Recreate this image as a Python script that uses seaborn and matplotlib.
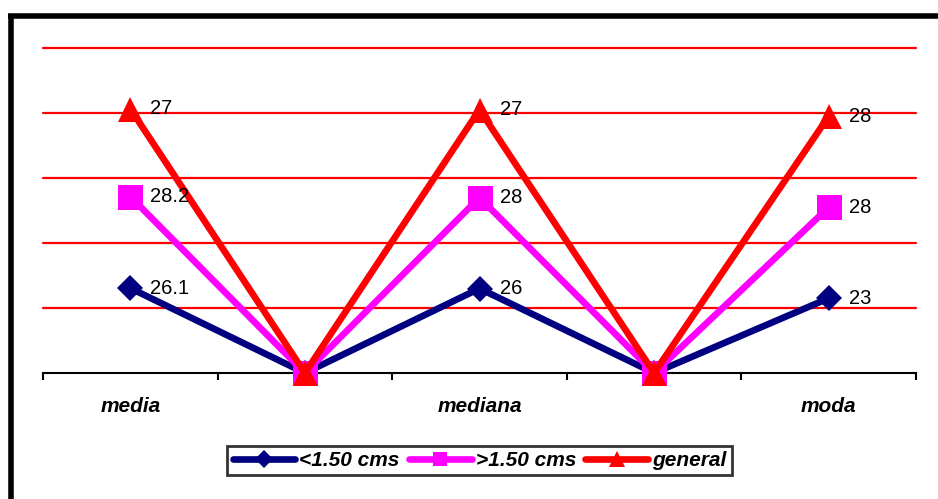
import matplotlib
matplotlib.use("Agg")
import matplotlib.pyplot as plt
from matplotlib.lines import Line2D
import numpy as np
import pandas as pd
import seaborn as sns

# Categories along the x axis (blank slots separate the three statistics)
categories = ["media", "", "mediana", "", "moda"]
series_names = ["<1.50 cms", ">1.50 cms", "general"]
vals_small = [26.1, 0, 26, 0, 23]
vals_large = [28.2, 0, 28, 0, 28]
vals_general = [27, 0, 27, 0, 28]
y_gridlines = [20, 40, 60, 80, 100]

colors = ["#000080", "#FF00FF", "#FF0000"]
markers = ["D", "s", "^"]
marker_sizes = [13, 18, 18]

sns.set_theme(style="white")
plt.rcParams["font.family"] = ["Liberation Sans", "DejaVu Sans"]
plt.rcParams["text.color"] = "black"
plt.rcParams["xtick.color"] = "black"

fig = plt.figure(figsize=(9.38, 4.99), dpi=100)
W, H = 938, 499
ax = fig.add_axes([43 / W, 1 - 373 / H, (916 - 43) / W, (373 - 48) / H])

# Stacked line chart: each series is drawn on top of the previous ones
raw = [vals_small, vals_large, vals_general]
stacked = np.cumsum(np.array(raw, dtype=float), axis=0)
x = np.arange(len(categories))

frames = []
for name, r, s in zip(series_names, raw, stacked):
    frames.append(pd.DataFrame({"x": x, "y": s, "raw": r, "serie": name}))
df = pd.concat(frames, ignore_index=True)

for gy in y_gridlines:
    ax.axhline(gy, color="#FF0000", lw=1.6, zorder=1, clip_on=False)

for i, name in enumerate(series_names):
    sub = df[df["serie"] == name]
    sns.lineplot(data=sub, x="x", y="y", ax=ax, color=colors[i], lw=4.8,
                 marker=markers[i], markersize=marker_sizes[i],
                 markeredgewidth=0, markerfacecolor=colors[i],
                 sort=False, errorbar=None, clip_on=False, zorder=3 + i)
    for _, row in sub.iterrows():
        if row["raw"] != 0:
            ax.annotate(f"{row['raw']:g}", (row["x"], row["y"]),
                        xytext=(14.5, 0), textcoords="offset points",
                        ha="left", va="center", fontsize=14.5, color="black",
                        zorder=10)

ax.set_xlim(-0.5, len(categories) - 0.5)
ax.set_ylim(0, 100)
ax.set_xlabel("")
ax.set_ylabel("")
ax.set_yticks([])
ax.set_xticks(np.arange(-0.5, len(categories), 1.0))
ax.set_xticklabels([])
ax.set_xticks(x, minor=True)
ax.set_xticklabels(categories, minor=True, fontsize=15, fontweight="bold",
                   fontstyle="italic", color="black")
ax.tick_params(axis="x", which="major", direction="out", length=5, width=1.5,
               color="black", bottom=True)
ax.tick_params(axis="x", which="minor", length=0, pad=17)
for side in ["top", "right", "left"]:
    ax.spines[side].set_visible(False)
ax.spines["bottom"].set_color("black")
ax.spines["bottom"].set_linewidth(1.5)
ax.spines["bottom"].set_zorder(2)
ax.set_facecolor("none")
if ax.get_legend() is not None:
    ax.get_legend().remove()

# Legend below the plot
handles = [Line2D([], [], color=c, lw=4.8, marker=m, markersize=ms,
                  markeredgewidth=0, solid_capstyle="round")
           for c, m, ms in zip(colors, markers, [9, 10, 11])]
leg = fig.legend(handles, series_names, loc="center",
                 bbox_to_anchor=(479.5 / W, 1 - 460.5 / H), ncol=3,
                 frameon=True, fancybox=False, edgecolor="black",
                 handlelength=3.0, handletextpad=0.2, columnspacing=0.45,
                 borderpad=0.25,
                 prop={"size": 15, "weight": "bold", "style": "italic"})
leg.get_frame().set_linewidth(2)
for t in leg.get_texts():
    t.set_color("black")

# Thick outer frame
fig.add_artist(Line2D([8 / W, 1.0], [1 - 16 / H, 1 - 16 / H],
                      transform=fig.transFigure, color="black", lw=4,
                      solid_capstyle="butt"))
fig.add_artist(Line2D([10.5 / W, 10.5 / W], [1 - 14 / H, 0.0],
                      transform=fig.transFigure, color="black", lw=4,
                      solid_capstyle="butt"))

fig.savefig("out.png", dpi=100)
